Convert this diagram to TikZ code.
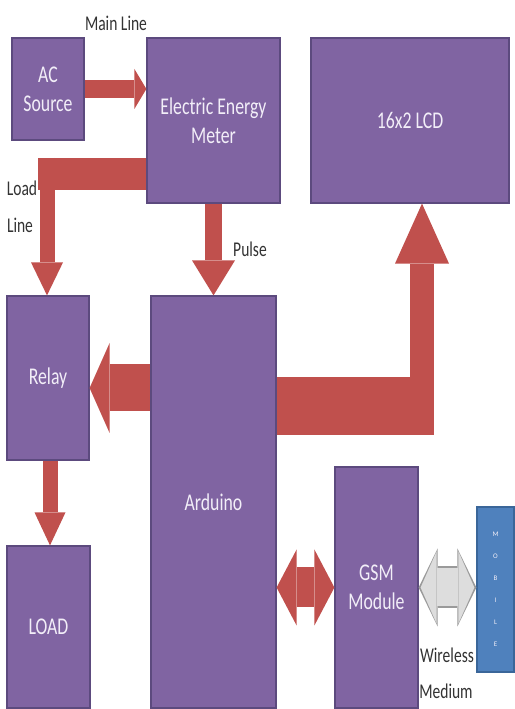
\documentclass[tikz,border=0pt]{standalone}
\usepackage{fontspec}
\setmainfont{Carlito}
\usetikzlibrary{arrows.meta,calc,positioning}
\definecolor{boxfill}{HTML}{8064A2}
\definecolor{boxedge}{HTML}{5C4A7E}
\definecolor{boxtext}{HTML}{F2EEF8}
\definecolor{pipered}{HTML}{C0504D}
\definecolor{mobblue}{HTML}{4F81BD}
\definecolor{mobedge}{HTML}{3A6699}
\definecolor{wirefill}{HTML}{DDDDDD}
\definecolor{wireedge}{HTML}{9A9A9A}
\newcommand{\nar}[1]{\scalebox{0.74}[1]{#1}}
\tikzset{
  block/.style={draw=boxedge, fill=boxfill, line width=1.2pt, text=boxtext, align=center, inner sep=0pt, font=\fontsize{24}{29}\selectfont},
  note/.style={text=black!80, inner sep=0pt, font=\fontsize{21}{24}\selectfont},
  pipe/.style={draw=pipered, line width=#1},
  headed/.style 2 args={arrows={-Triangle[width=#1,length=#2,line width=0pt]}},
  twoheaded/.style 2 args={arrows={Triangle[width=#1,length=#2,line width=0pt]-Triangle[width=#1,length=#2,line width=0pt]}},
}

\begin{document}
\begin{tikzpicture}[x=1pt,y=1pt]
\useasboundingbox (0,0) rectangle (514,709);
% blocks
\node[block, minimum width=72pt, minimum height=102pt] (ac) at (48,620) {\nar{AC}\\\nar{Source}};
\node[block, minimum width=133pt, minimum height=165pt] (meter) at (213.5,588.5) {\nar{Electric Energy}\\\nar{Meter}};
\node[block, minimum width=198pt, minimum height=165pt] (lcd) at (410,588.5) {\nar{16x2 LCD}};
\node[block, minimum width=82pt, minimum height=164pt] (relay) at (48,331) {\nar{Relay}};
\node[block, minimum width=125pt, minimum height=412pt] (arduino) at (213.5,207) {\nar{Arduino}};
\node[block, minimum width=83pt, minimum height=162pt] (load) at (48.5,82) {\nar{LOAD}};
\node[block, minimum width=83pt, minimum height=241pt] (gsm) at (376.5,121.5) {\nar{GSM}\\\nar{Module}};
\node[block, draw=mobedge, fill=mobblue, minimum width=37pt, minimum height=165pt, font=\fontsize{7}{22}\selectfont] (mobile) at (495.5,119.5) {M\\O\\B\\I\\L\\E};

% main line
\draw[pipe=18pt, headed={40pt}{12pt}] (ac.east) -- (ac.east -| meter.west);
% load line
\coordinate (loadbend) at (47,535);
\draw[pipe=32pt] (loadbend -| meter.west) -- ([xshift=-9pt]loadbend);
\draw[pipe=15pt, headed={32pt}{33pt}] ([yshift=16pt]loadbend) -- (loadbend |- relay.north);
% relay to load
\draw[pipe=15pt, headed={31pt}{33pt}] ([xshift=2pt]relay.south) -- ([xshift=2pt]relay.south |- load.north);
% pulse
\draw[pipe=17pt, headed={43pt}{35pt}] (meter.south) -- (meter.south |- arduino.north);
% to relay
\draw[pipe=47pt, headed={90pt}{20pt}] ([yshift=-10pt]relay.east -| arduino.west) -- ([yshift=-10pt]relay.east);
% to lcd
\coordinate (lcdbend) at (422,303);
\draw[pipe=58pt] (lcdbend -| arduino.east) -- ([xshift=12pt]lcdbend);
\draw[pipe=24pt, headed={54pt}{60pt}] ([yshift=-29pt]lcdbend) -- (lcdbend |- lcd.south);
% gsm link
\draw[pipe=40pt, twoheaded={76pt}{20pt}] (gsm.west -| arduino.east) -- (gsm.west);
% wireless
\draw[draw=wireedge, line width=42pt, twoheaded={78pt}{19pt}] (gsm.east) -- (gsm.east -| mobile.west);
\draw[draw=wirefill, line width=38pt, twoheaded={72pt}{16pt}, shorten <=2pt, shorten >=2pt] (gsm.east) -- (gsm.east -| mobile.west);

% labels
\node[note] (mainlbl) at (116,686) {\nar{Main Line}};
\node[note] (loadlbl) at (22,521) {\nar{Load}};
\node[note] (linelbl) at (20,484) {\nar{Line}};
\node[note] (pulselbl) at (250,460) {\nar{Pulse}};
\node[note] (wirelbl) at (447,54) {\nar{Wireless}};
\node[note] (medlbl) at (446,18) {\nar{Medium}};
\end{tikzpicture}
\end{document}
